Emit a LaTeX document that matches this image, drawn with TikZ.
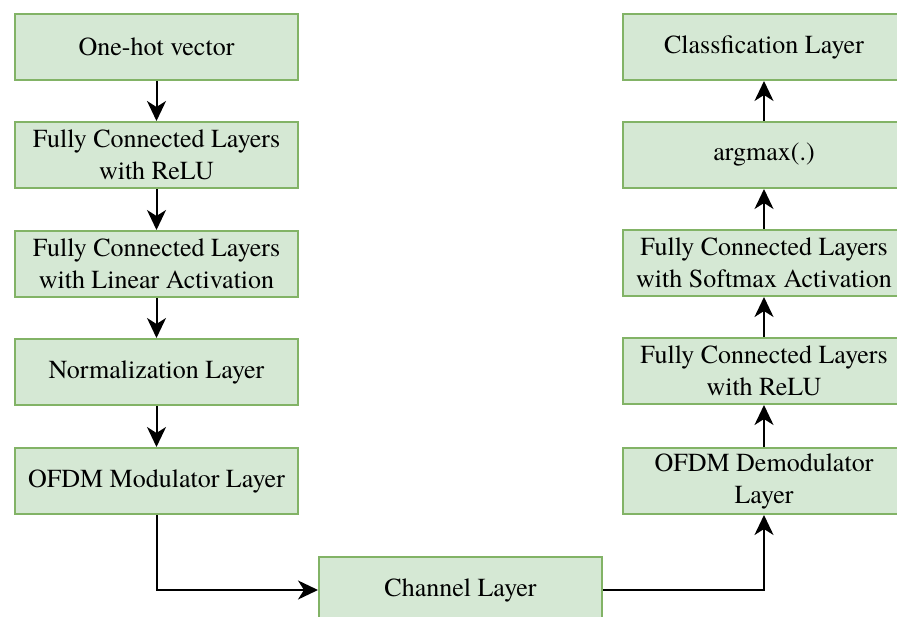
\documentclass[tikz,border=0pt]{standalone}
\usepackage{fontspec}
\setmainfont{TeX Gyre Termes}
\usetikzlibrary{arrows.meta}
\definecolor{boxgreen}{HTML}{82B366}
\definecolor{boxfill}{HTML}{D5E8D4}
\begin{document}
\begin{tikzpicture}[x=1pt,y=-1pt,
  layerbox/.style={draw=boxgreen, fill=boxfill, line width=2pt, minimum width=283pt,
    minimum height=66pt, inner sep=0pt, align=center, font=\fontsize{26}{32}\selectfont},
  flow/.style={line width=2pt, -{Stealth[length=20pt,width=19pt,inset=6pt]}}]
\useasboundingbox (0,0) rectangle (897,617);
\clip (0,0) rectangle (897,617);
% left column
\node[layerbox] (onehot) at (156.5,47) {One-hot vector};
\node[layerbox] (fcrelu) at (156.5,155) {Fully Connected Layers\\with ReLU};
\node[layerbox] (fclin) at (156.5,264) {Fully Connected Layers\\with Linear Activation};
\node[layerbox] (norm) at (156.5,372) {Normalization Layer};
\node[layerbox] (ofdmmod) at (156.5,481) {OFDM Modulator Layer};
% channel
\node[layerbox] (chan) at (460.5,590) {Channel Layer};
% right column
\node[layerbox] (cls) at (764,47) {Classfication Layer};
\node[layerbox] (argmax) at (764,155) {argmax(.)};
\node[layerbox] (fcsoft) at (764,263) {Fully Connected Layers\\with Softmax Activation};
\node[layerbox] (fcrelu2) at (764,371) {Fully Connected Layers\\with ReLU};
\node[layerbox] (ofdmdem) at (764,481) {OFDM Demodulator\\Layer};
% connectors
\draw[flow] (onehot) -- (fcrelu);
\draw[flow] (fcrelu) -- (fclin);
\draw[flow] (fclin) -- (norm);
\draw[flow] (norm) -- (ofdmmod);
\draw[flow] (ofdmmod.south) |- (chan.west);
\draw[flow] (chan.east) -| (ofdmdem.south);
\draw[flow] (ofdmdem) -- (fcrelu2);
\draw[flow] (fcrelu2) -- (fcsoft);
\draw[flow] (fcsoft) -- (argmax);
\draw[flow] (argmax) -- (cls);
\end{tikzpicture}
\end{document}
